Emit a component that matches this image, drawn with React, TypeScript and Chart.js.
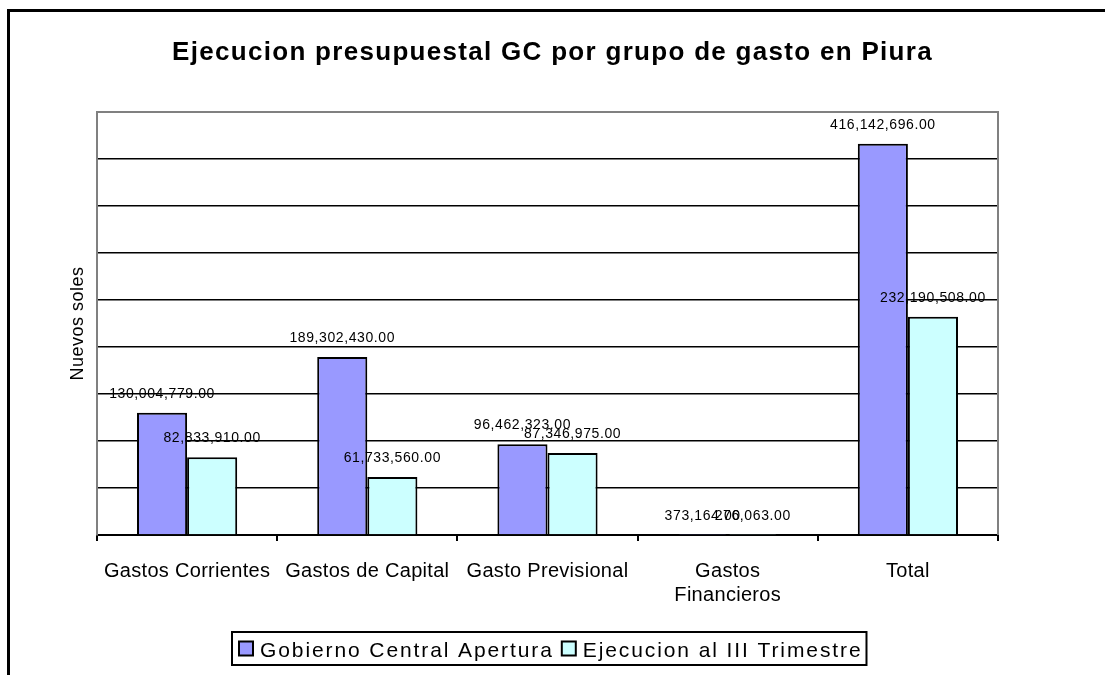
import React, { useEffect, useRef } from "react";
import { Chart, registerables } from "chart.js";

Chart.register(...registerables);

// ---- data ----
const categories: (string | string[])[] = [
  "Gastos Corrientes",
  "Gastos de Capital",
  "Gasto Previsional",
  ["Gastos", "Financieros"],
  "Total",
];
const aperturaValues = [130004779, 189302430, 96462323, 373164, 416142696];
const ejecucionValues = [82833910, 61733560, 87346975, 276063, 232190508];
const seriesNames = ["Gobierno Central Apertura", "Ejecucion al III Trimestre"];
const seriesColors = ["#9999FF", "#CCFFFF"];
const yMin = 0;
const yMax = 450000000;
const yStep = 50000000;
const titleText = "Ejecucion presupuestal GC por grupo de gasto en Piura";
const yAxisTitle = "Nuevos soles";

const FONT = '"Liberation Sans", Arial, sans-serif';

function fmt(v: number): string {
  return v.toLocaleString("en-US", { minimumFractionDigits: 2, maximumFractionDigits: 2 });
}

function setSpacing(ctx: any, px: number) {
  try {
    ctx.letterSpacing = px + "px";
  } catch (e) {}
}

const decorPlugin = {
  id: "decor",
  beforeDraw(chart: any) {
    const ctx = chart.ctx;
    ctx.save();
    ctx.fillStyle = "#ffffff";
    ctx.fillRect(0, 0, chart.width, chart.height);
    ctx.fillStyle = "#000000";
    ctx.fillRect(7, 9, chart.width - 7, 3);
    ctx.fillRect(7, 9, 3, chart.height - 9);
    ctx.restore();
  },
  beforeDatasetsDraw(chart: any) {
    const ctx = chart.ctx;
    const a = chart.chartArea;
    ctx.save();
    ctx.strokeStyle = "#808080";
    ctx.lineWidth = 2;
    ctx.beginPath();
    ctx.moveTo(a.left, a.top);
    ctx.lineTo(a.right, a.top);
    ctx.lineTo(a.right, a.bottom);
    ctx.stroke();
    ctx.restore();
  },
  afterDatasetsDraw(chart: any) {
    const ctx = chart.ctx;
    ctx.save();
    ctx.font = "14px " + FONT;
    setSpacing(ctx, 0.6);
    ctx.fillStyle = "#000";
    ctx.textAlign = "center";
    ctx.textBaseline = "alphabetic";
    chart.data.datasets.forEach((ds: any, di: number) => {
      const meta = chart.getDatasetMeta(di);
      meta.data.forEach((el: any, i: number) => {
        ctx.fillText(fmt(ds.data[i]), el.x, el.y - 15);
      });
    });
    ctx.restore();
  },
  afterDraw(chart: any) {
    const ctx = chart.ctx;
    const a = chart.chartArea;
    ctx.save();
    ctx.fillStyle = "#000";

    // title
    ctx.font = "bold 26px " + FONT;
    setSpacing(ctx, 1.3);
    ctx.textAlign = "center";
    ctx.textBaseline = "alphabetic";
    ctx.fillText(titleText, chart.width / 2, 60);

    // y axis title
    ctx.save();
    ctx.font = "18px " + FONT;
    setSpacing(ctx, 0.5);
    ctx.translate(78, (a.top + a.bottom) / 2);
    ctx.rotate(-Math.PI / 2);
    ctx.textAlign = "center";
    ctx.textBaseline = "middle";
    ctx.fillText(yAxisTitle, 0, 0);
    ctx.restore();

    // category labels
    const xs = chart.scales.x;
    ctx.font = "20px " + FONT;
    setSpacing(ctx, 0.3);
    ctx.textAlign = "center";
    ctx.textBaseline = "alphabetic";
    categories.forEach((c, i) => {
      const x = xs.getPixelForValue(i);
      const lines = Array.isArray(c) ? c : [c];
      lines.forEach((ln, li) => {
        ctx.fillText(ln, x, a.bottom + 42 + li * 24);
      });
    });

    // legend
    ctx.font = "21px " + FONT;
    setSpacing(ctx, 1.9);
    const sq = 14;
    const gapSq = 7;
    const gapItem = 8;
    const padL = 7;
    const padR = 4;
    const widths = chart.data.datasets.map((ds: any) => ctx.measureText(ds.label).width);
    let total = padL + padR;
    widths.forEach((w: number, i: number) => {
      total += sq + gapSq + w + (i < widths.length - 1 ? gapItem : 0);
    });
    const boxTop = 632;
    const boxH = 33;
    const boxLeft = Math.round(549 - total / 2);
    ctx.strokeStyle = "#000";
    ctx.lineWidth = 2;
    ctx.strokeRect(boxLeft, boxTop, total, boxH);
    let x = boxLeft + padL;
    const cy = boxTop + boxH / 2;
    chart.data.datasets.forEach((ds: any, i: number) => {
      ctx.fillStyle = ds.backgroundColor;
      ctx.fillRect(x, cy - sq / 2, sq, sq);
      ctx.strokeStyle = "#000";
      ctx.lineWidth = 2;
      ctx.strokeRect(x, cy - sq / 2, sq, sq);
      x += sq + gapSq;
      ctx.fillStyle = "#000";
      ctx.textAlign = "left";
      ctx.textBaseline = "alphabetic";
      ctx.fillText(ds.label, x, cy + 8);
      x += widths[i] + gapItem;
    });
    ctx.restore();
  },
};

export default function App() {
  const ref = useRef<HTMLCanvasElement | null>(null);
  useEffect(() => {
    if (!ref.current) return;
    const chart = new Chart(ref.current, {
      type: "bar",
      data: {
        labels: categories as any,
        datasets: [
          {
            label: seriesNames[0],
            data: aperturaValues,
            backgroundColor: seriesColors[0],
            borderColor: "#000000",
            borderWidth: 2,
            barPercentage: 1,
            categoryPercentage: 0.556,
          },
          {
            label: seriesNames[1],
            data: ejecucionValues,
            backgroundColor: seriesColors[1],
            borderColor: "#000000",
            borderWidth: 2,
            barPercentage: 1,
            categoryPercentage: 0.556,
          },
        ],
      },
      options: {
        responsive: false,
        animation: false,
        devicePixelRatio: 1,
        layout: { padding: { left: 97, right: 107, top: 112, bottom: 134 } },
        plugins: {
          legend: { display: false },
          title: { display: false },
          tooltip: { enabled: false },
        },
        scales: {
          x: {
            grid: {
              display: true,
              drawOnChartArea: false,
              drawTicks: true,
              tickLength: 6,
              color: "#000000",
              lineWidth: 2,
              offset: true,
            },
            border: { display: true, color: "#000000", width: 2 },
            ticks: { display: false },
          },
          y: {
            min: yMin,
            max: yMax,
            ticks: { display: false, stepSize: yStep },
            grid: {
              drawTicks: false,
              color: (c: any) => (c.tick && c.tick.value === yMax ? "#808080" : "#000000"),
              lineWidth: (c: any) => (c.tick && c.tick.value === yMax ? 2 : 1.5),
            },
            border: { display: true, color: "#808080", width: 2 },
          },
        },
      },
      plugins: [decorPlugin],
    });
    return () => chart.destroy();
  }, []);
  return (
    <div style={{ position: "fixed", left: 0, top: 0, width: 1105, height: 675, background: "#fff" }}>
      <canvas ref={ref} width={1105} height={675} style={{ display: "block", width: 1105, height: 675 }} />
    </div>
  );
}
